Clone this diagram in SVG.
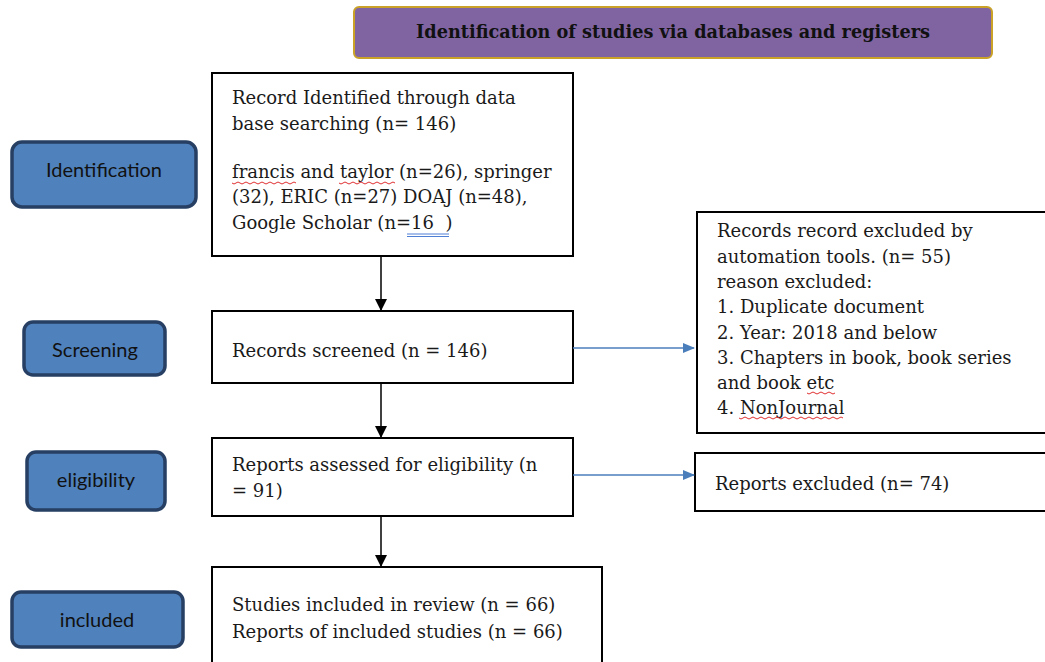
<svg xmlns="http://www.w3.org/2000/svg" width="1045" height="662" viewBox="0 0 1045 662">
<style>
.stage rect{fill:#4F81BD;stroke:#263F63;stroke-width:3.5}
.stage text{font-family:Lato,"Liberation Sans",sans-serif;font-size:20px;fill:#111;text-anchor:middle}
.box rect{fill:#fff;stroke:#000;stroke-width:2}
.box text{font-family:"DejaVu Serif",serif;font-size:18px;fill:#1a1a1a}
.blk{stroke:#000;stroke-width:1.5;fill:none}
.blu{stroke:#4A7EBB;stroke-width:1.5;fill:none}
.sq{stroke:#E03030;stroke-width:1;fill:none}
</style>
<defs>
<marker id="ab" markerWidth="12" markerHeight="12" refX="11" refY="6" orient="auto" markerUnits="userSpaceOnUse"><path d="M0,0 L12,6 L0,12 Z" fill="#000"/></marker>
<marker id="au" markerWidth="12" markerHeight="10" refX="11" refY="5" orient="auto" markerUnits="userSpaceOnUse"><path d="M0,0 L12,5 L0,10 Z" fill="#4A7EBB"/></marker>
</defs>
<g id="title">
<rect x="354" y="7" width="638" height="51" rx="5" fill="#8064A2" stroke="#C9A227" stroke-width="2"/>
<text x="673" y="38" font-family="DejaVu Serif,serif" font-size="17.7" font-weight="bold" text-anchor="middle" fill="#111">Identification of studies via databases and registers</text>
</g>
<g id="stage-identification" class="stage"><rect x="12" y="142" width="184" height="65" rx="10"/><text x="104" y="177">Identification</text></g>
<g id="stage-screening" class="stage"><rect x="24" y="322" width="141" height="53" rx="9"/><text x="95" y="357">Screening</text></g>
<g id="stage-eligibility" class="stage"><rect x="27" y="452" width="138" height="58" rx="9"/><text x="96" y="487">eligibility</text></g>
<g id="stage-included" class="stage"><rect x="12" y="592" width="171" height="55" rx="9"/><text x="97" y="627">included</text></g>
<g id="identified" class="box">
<rect x="212" y="73" width="361" height="183"/>
<text x="232" y="104">Record Identified through data</text>
<text x="232" y="130">base searching (n= 146)</text>
<text x="232" y="178">francis and taylor (n=26), springer</text>
<text x="232" y="203">(32), ERIC (n=27) DOAJ (n=48),</text>
<text x="232" y="229">Google Scholar (n=16&#160; )</text>
<path class="sq" d="M232,183 q2,2 4,0 t4,0 t4,0 t4,0 t4,0 t4,0 t4,0 t4,0 t4,0 t4,0 t4,0 t4,0 t4,0 t4,0 t4,0 t4,0"/>
<path class="sq" d="M339,183 q2,2 4,0 t4,0 t4,0 t4,0 t4,0 t4,0 t4,0 t4,0 t4,0 t4,0 t4,0 t4,0 t4,0 t4,0"/>
<path d="M407,234 H449 M407,236.5 H449" stroke="#3B6FD0" stroke-width="0.9" fill="none"/>
</g>
<g id="screened" class="box">
<rect x="212" y="311" width="361" height="72"/>
<text x="232" y="357">Records screened (n = 146)</text>
</g>
<g id="assessed" class="box">
<rect x="212" y="438" width="361" height="78"/>
<text x="232" y="471">Reports assessed for eligibility (n</text>
<text x="232" y="497">= 91)</text>
</g>
<g id="included" class="box">
<rect x="212" y="567" width="390" height="100"/>
<text x="232" y="611">Studies included in review (n = 66)</text>
<text x="232" y="638">Reports of included studies (n = 66)</text>
</g>
<g id="excluded-automation" class="box">
<rect x="697" y="212" width="360" height="221"/>
<text x="717" y="237">Records record excluded by</text>
<text x="717" y="263">automation tools. (n= 55)</text>
<text x="717" y="288">reason excluded:</text>
<text x="717" y="313">1. Duplicate document</text>
<text x="717" y="339">2. Year: 2018 and below</text>
<text x="717" y="364">3. Chapters in book, book series</text>
<text x="717" y="389">and book etc</text>
<text x="717" y="414">4. NonJournal</text>
<path class="sq" d="M807,393 q2,2 4,0 t4,0 t4,0 t4,0 t4,0 t4,0 t4,0"/>
<path class="sq" d="M739,418 q2,2 4,0 t4,0 t4,0 t4,0 t4,0 t4,0 t4,0 t4,0 t4,0 t4,0 t4,0 t4,0 t4,0 t4,0 t4,0 t4,0 t4,0 t4,0 t4,0 t4,0 t4,0 t4,0 t4,0 t4,0 t4,0 t4,0"/>
</g>
<g id="excluded-reports" class="box">
<rect x="695" y="453" width="360" height="58"/>
<text x="715" y="490">Reports excluded (n= 74)</text>
</g>
<g id="connectors">
<path class="blk" d="M381,256 V310" marker-end="url(#ab)"/>
<path class="blk" d="M381,383 V437" marker-end="url(#ab)"/>
<path class="blk" d="M381,516 V566" marker-end="url(#ab)"/>
<path class="blu" d="M573,348 H694" marker-end="url(#au)"/>
<path class="blu" d="M573,475 H694" marker-end="url(#au)"/>
</g>
</svg>
